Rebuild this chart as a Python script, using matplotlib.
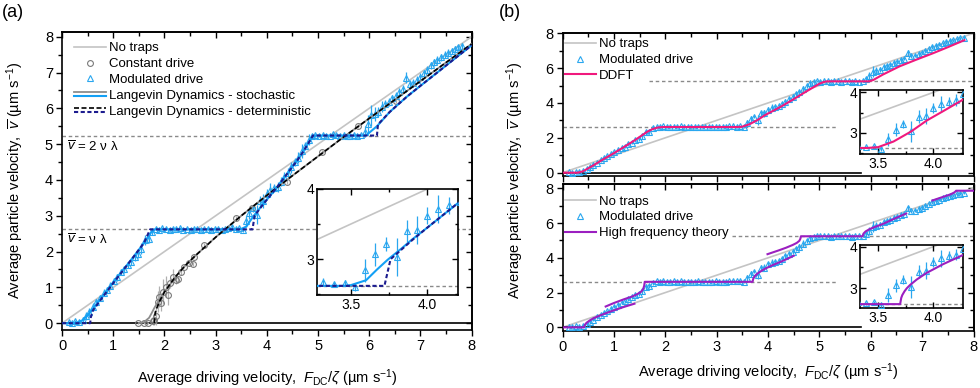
import numpy as np
import matplotlib
matplotlib.use("Agg")
import matplotlib.pyplot as plt
from matplotlib.lines import Line2D
from matplotlib.legend_handler import HandlerBase
from matplotlib.ticker import MultipleLocator, FixedLocator, FormatStrFormatter

plt.rcParams['font.family'] = ['Liberation Sans', 'DejaVu Sans']
plt.rcParams['mathtext.fontset'] = 'custom'
plt.rcParams['mathtext.rm'] = 'Liberation Sans'
plt.rcParams['mathtext.it'] = 'Liberation Sans:italic'
plt.rcParams['mathtext.bf'] = 'Liberation Sans:bold'
plt.rcParams['axes.linewidth'] = 1.2

# ---------------- data ----------------
PLATEAUS = [2.62, 5.24]          # nu*lambda, 2*nu*lambda
NOTRAP_X = [0.0, 8.0]
NOTRAP_Y = [0.0, 8.0]

# modulated drive (experiment)
MOD_X = [0.13, 0.19, 0.26, 0.33, 0.40, 0.47, 0.53, 0.60, 0.67, 0.74,
         0.81, 0.87, 0.94, 1.01, 1.08, 1.15, 1.21, 1.28, 1.35, 1.42,
         1.49, 1.55, 1.62, 1.69, 1.76, 1.83, 1.89, 1.96, 2.03, 2.10,
         2.17, 2.23, 2.30, 2.37, 2.44, 2.51, 2.57, 2.64, 2.71, 2.78,
         2.85, 2.91, 2.98, 3.05, 3.12, 3.19, 3.25, 3.32, 3.39, 3.46,
         3.53, 3.59, 3.66, 3.73, 3.80, 3.87, 3.93, 4.00, 4.07, 4.14,
         4.21, 4.27, 4.34, 4.41, 4.48, 4.55, 4.61, 4.68, 4.75, 4.82,
         4.89, 4.95, 5.02, 5.09, 5.16, 5.23, 5.29, 5.36, 5.43, 5.50,
         5.57, 5.63, 5.70, 5.77, 5.84, 5.91, 5.97, 6.04, 6.11, 6.18,
         6.25, 6.31, 6.38, 6.45, 6.52, 6.59, 6.65, 6.72, 6.79, 6.86,
         6.93, 6.99, 7.06, 7.13, 7.20, 7.27, 7.33, 7.40, 7.47, 7.54,
         7.61, 7.67, 7.74, 7.81]
MOD_Y = [0.02, 0.00, 0.05, 0.04, 0.10, 0.20, 0.30, 0.45, 0.58, 0.70,
         0.85, 0.93, 1.05, 1.18, 1.28, 1.42, 1.50, 1.62, 1.72, 1.85,
         1.93, 2.08, 2.32, 2.36, 2.55, 2.64, 2.61, 2.66, 2.62, 2.60,
         2.64, 2.62, 2.65, 2.61, 2.63, 2.60, 2.62, 2.64, 2.61, 2.63,
         2.62, 2.60, 2.64, 2.62, 2.61, 2.63, 2.65, 2.68, 2.64, 2.66,
         2.60, 2.84, 3.07, 3.21, 3.03, 3.40, 3.42, 3.62, 3.72, 3.77,
         3.81, 3.95, 4.08, 4.20, 4.35, 4.50, 4.62, 4.80, 4.95, 5.12,
         5.22, 5.25, 5.23, 5.26, 5.24, 5.22, 5.27, 5.25, 5.23, 5.26,
         5.24, 5.22, 5.25, 5.23, 5.26, 5.35, 5.55, 5.80, 5.84, 5.90,
         6.05, 6.12, 6.18, 6.28, 6.35, 6.45, 6.55, 6.86, 6.68, 6.72,
         6.80, 6.88, 6.98, 7.08, 7.20, 7.28, 7.35, 7.42, 7.50, 7.55,
         7.60, 7.65, 7.70, 7.75]
MOD_ERR = [0.03, 0.03, 0.05, 0.05, 0.08, 0.10, 0.12, 0.10, 0.10, 0.08,
           0.10, 0.08, 0.10, 0.08, 0.10, 0.08, 0.10, 0.08, 0.10, 0.10,
           0.12, 0.15, 0.15, 0.12, 0.10, 0.05, 0.04, 0.04, 0.03, 0.03,
           0.03, 0.03, 0.03, 0.03, 0.03, 0.03, 0.03, 0.03, 0.03, 0.03,
           0.03, 0.03, 0.03, 0.03, 0.03, 0.03, 0.03, 0.05, 0.03, 0.04,
           0.05, 0.16, 0.16, 0.10, 0.27, 0.16, 0.20, 0.12, 0.20, 0.12,
           0.14, 0.12, 0.15, 0.12, 0.15, 0.12, 0.15, 0.20, 0.12, 0.15,
           0.05, 0.04, 0.03, 0.03, 0.03, 0.03, 0.03, 0.03, 0.03, 0.03,
           0.03, 0.03, 0.03, 0.03, 0.03, 0.15, 0.25, 0.30, 0.20, 0.15,
           0.15, 0.12, 0.12, 0.10, 0.10, 0.12, 0.10, 0.15, 0.10, 0.10,
           0.10, 0.10, 0.10, 0.10, 0.10, 0.10, 0.10, 0.10, 0.10, 0.10,
           0.08, 0.08, 0.08, 0.08]

# constant drive (experiment)
CONST_X = [1.48, 1.61, 1.68, 1.77, 1.80, 1.84, 1.87, 1.90, 1.94, 1.97,
           2.03, 2.06, 2.10, 2.16, 2.22, 2.26, 2.32, 2.39, 2.48, 2.55,
           2.58, 2.77, 3.39, 3.71, 4.39, 5.08, 5.78, 6.52]
CONST_Y = [0.00, 0.00, 0.00, 0.05, 0.09, 0.19, 0.60, 0.74, 0.55, 0.88,
           1.02, 0.80, 1.12, 1.30, 1.20, 1.23, 1.44, 1.58, 1.67, 1.65,
           1.86, 2.18, 2.93, 3.21, 3.95, 4.78, 5.50, 6.20]
CONST_ERR = [0.02, 0.02, 0.02, 0.10, 0.15, 0.25, 0.30, 0.30, 0.20, 0.35,
             0.30, 0.30, 0.15, 0.20, 0.10, 0.10, 0.10, 0.05, 0.05, 0.05,
             0.05, 0.05, 0.05, 0.05, 0.05, 0.05, 0.05, 0.05]

# Langevin dynamics, modulated drive
LDS_MOD_X = [0.0, 0.2, 0.3, 0.4, 0.5, 0.6, 0.8, 1.0, 1.2, 1.4, 1.6, 1.7, 1.75, 1.8,
             3.45, 3.5, 3.6, 3.67, 3.74, 3.83, 3.9, 4.0, 4.2, 4.4, 4.6, 4.7, 4.8,
             4.88, 4.95, 5.9, 5.95, 6.05, 6.15, 6.4, 6.73, 7.0, 7.31, 7.6, 8.0]
LDS_MOD_Y = [0.0, 0.0, 0.02, 0.08, 0.22, 0.40, 0.76, 1.14, 1.50, 1.86, 2.24, 2.45, 2.56, 2.62,
             2.62, 2.63, 2.70, 2.85, 2.99, 3.15, 3.28, 3.45, 3.80, 4.18, 4.56, 4.77, 5.00,
             5.20, 5.24, 5.24, 5.26, 5.38, 5.50, 5.90, 6.32, 6.63, 6.98, 7.31, 7.76]
LDD_MOD_X = [0.0, 0.55, 0.56, 0.6, 0.8, 1.0, 1.2, 1.4, 1.6, 1.72, 3.72, 3.76, 3.9, 4.0,
             4.2, 4.4, 4.6, 4.7, 4.8, 4.9, 6.15, 6.17, 6.4, 6.73, 7.0, 7.31, 7.6, 8.0]
LDD_MOD_Y = [0.0, 0.0, 0.15, 0.35, 0.74, 1.12, 1.49, 1.86, 2.24, 2.62, 2.62, 3.00, 3.27, 3.45,
             3.80, 4.18, 4.56, 4.77, 5.00, 5.24, 5.24, 5.55, 5.90, 6.32, 6.63, 6.98, 7.31, 7.76]

# Langevin dynamics, constant drive
LDS_CONST_X = [1.5, 1.6, 1.7, 1.75, 1.8, 1.9, 2.0, 2.1, 2.2, 2.4, 2.6, 2.8, 3.0, 3.2, 3.5,
               4.0, 4.5, 5.0, 5.5, 6.0, 6.5, 7.0, 7.5, 8.0]
LDS_CONST_Y = [0.0, 0.03, 0.15, 0.28, 0.42, 0.66, 0.88, 1.06, 1.27, 1.60, 1.88, 2.14, 2.40,
               2.64, 3.00, 3.57, 4.12, 4.66, 5.20, 5.72, 6.24, 6.76, 7.28, 7.80]
LDD_CONST_X = [1.8, 1.82, 1.85, 1.9, 2.0, 2.2, 2.4, 2.6, 2.8, 3.0, 3.2, 3.5, 4.0, 4.5, 5.0,
               5.5, 6.0, 6.5, 7.0, 7.5, 8.0]
LDD_CONST_Y = [0.0, 0.30, 0.42, 0.60, 0.87, 1.27, 1.60, 1.88, 2.14, 2.40, 2.64, 3.00, 3.57,
               4.12, 4.66, 5.20, 5.72, 6.24, 6.76, 7.28, 7.80]

# DDFT
DDFT_X = [0.0, 0.30, 0.40, 0.50, 0.60, 0.80, 1.00, 1.20, 1.40, 1.55, 1.65, 1.75, 1.85, 1.95,
          3.40, 3.50, 3.58, 3.64, 3.80, 3.94, 4.10, 4.27, 4.50, 4.70, 4.90, 5.00, 5.08, 5.15,
          5.97, 6.05, 6.23, 6.56, 6.90, 7.21, 7.50, 7.82]
DDFT_Y = [0.0, 0.0, 0.08, 0.25, 0.42, 0.78, 1.12, 1.48, 1.85, 2.15, 2.35, 2.50, 2.59, 2.62,
          2.62, 2.64, 2.72, 2.78, 3.03, 3.30, 3.55, 3.82, 4.22, 4.58, 4.93, 5.10, 5.20, 5.24,
          5.24, 5.32, 5.62, 6.10, 6.50, 6.85, 7.20, 7.60]

# high frequency theory (branches)
HF1_X = [0.0, 0.42, 0.43, 0.46, 0.52, 0.60, 0.71, 0.85, 1.04, 1.20, 1.40]
HF1_Y = [0.0, 0.0, 0.12, 0.24, 0.38, 0.52, 0.66, 0.82, 1.02, 1.18, 1.36]
HF2_X = [0.84, 1.00, 1.20, 1.36, 1.46, 1.53, 1.57, 1.59, 1.60, 3.70, 3.71, 3.72, 3.74,
         3.76, 3.79, 3.85, 3.94, 4.09, 4.27, 4.40, 4.50]
HF2_Y = [1.20, 1.40, 1.62, 1.78, 1.92, 2.05, 2.20, 2.40, 2.62, 2.62, 2.77, 2.84, 2.93,
         3.00, 3.08, 3.21, 3.37, 3.58, 3.80, 3.98, 4.12]
HF3_X = [3.99, 4.20, 4.35, 4.48, 4.56, 4.61, 4.63, 4.64, 5.84, 5.86, 5.90, 5.97, 6.10,
         6.23, 6.45, 6.69]
HF3_Y = [4.21, 4.42, 4.58, 4.74, 4.86, 4.98, 5.10, 5.24, 5.24, 5.40, 5.52, 5.64, 5.80,
         5.94, 6.24, 6.55]
HF4_X = [7.20, 7.40, 7.55, 7.62, 7.65, 7.66, 8.0]
HF4_Y = [7.30, 7.50, 7.65, 7.75, 7.82, 7.86, 7.86]

# ---------------- styles ----------------
C_NOTRAP = '#c4c4c4'
C_REF = '#8a8a8a'
C_MOD = '#2aa7ef'
C_LDS = '#13a0f5'
C_NAVY = '#1c1c8f'
C_CONST = '#7a7a7a'
C_DDFT = '#f0197d'
C_HF = '#9b1fc0'

XLAB = r"Average driving velocity,  $F_{\mathrm{DC}}/\zeta$ (µm s$^{-1}$)"
YLAB = r"Average particle velocity,  $\overline{v}$ (µm s$^{-1}$)"


class PairLine:
    def __init__(self, top, bottom):
        self.top, self.bottom = top, bottom


class HandlerPair(HandlerBase):
    def create_artists(self, legend, orig_handle, xdescent, ydescent,
                       width, height, fontsize, trans):
        arts = []
        for h, f in ((orig_handle.top, 0.68), (orig_handle.bottom, 0.3)):
            ln = Line2D([-xdescent, -xdescent + width],
                        [f * height - ydescent] * 2)
            ln.update_from(h)
            ln.set_transform(trans)
            arts.append(ln)
        return arts


def style_main(ax, ylim, ymaj, ymin):
    ax.set_xlim(0, 8)
    ax.set_ylim(*ylim)
    ax.xaxis.set_major_locator(MultipleLocator(1))
    ax.xaxis.set_minor_locator(MultipleLocator(0.5))
    ax.yaxis.set_major_locator(MultipleLocator(ymaj))
    ax.yaxis.set_minor_locator(MultipleLocator(ymin))
    ax.tick_params(which='both', direction='out', labelsize=10.5, width=1.0, pad=2)
    ax.tick_params(which='major', length=4.5)
    ax.tick_params(which='minor', length=3)
    top = ax.secondary_xaxis('top')
    top.xaxis.set_major_locator(MultipleLocator(1))
    top.xaxis.set_minor_locator(MultipleLocator(0.5))
    top.tick_params(which='both', direction='in', labeltop=False, width=1.0)
    top.tick_params(which='major', length=4.5)
    top.tick_params(which='minor', length=3)
    right = ax.secondary_yaxis('right')
    right.yaxis.set_major_locator(MultipleLocator(ymaj))
    right.yaxis.set_minor_locator(MultipleLocator(ymin))
    right.tick_params(which='both', direction='in', labelright=False, width=1.0)
    right.tick_params(which='major', length=4.5)
    right.tick_params(which='minor', length=3)


def style_inset(ax, xlim, ylim):
    ax.set_xlim(*xlim)
    ax.set_ylim(*ylim)
    ax.xaxis.set_major_locator(FixedLocator([3.5, 4.0]))
    ax.xaxis.set_minor_locator(FixedLocator([3.25, 3.75]))
    ax.xaxis.set_major_formatter(FormatStrFormatter('%.1f'))
    ax.yaxis.set_major_locator(FixedLocator([3, 4]))
    ax.yaxis.set_minor_locator(FixedLocator([2.5, 3.5]))
    ax.yaxis.set_major_formatter(FormatStrFormatter('%d'))
    ax.tick_params(which='both', direction='in', top=True, right=True,
                   labelsize=10, width=1.0, pad=2)
    ax.tick_params(which='major', length=4)
    ax.tick_params(which='minor', length=2.5)
    ax.set_facecolor('white')


def draw_mod(ax, ms=4.2):
    ax.errorbar(MOD_X, MOD_Y, yerr=MOD_ERR, fmt='^', mfc='none', mec=C_MOD,
                ecolor=C_MOD, ms=ms, mew=0.8, elinewidth=0.9, capsize=0, zorder=3)


fig = plt.figure(figsize=(9.8, 3.88), dpi=100)

# ---------------- panel (a) ----------------
ax = fig.add_axes([0.0633, 0.1495, 0.418, 0.7688])
style_main(ax, (-0.19, 8.14), 1, 0.5)
ax.plot(NOTRAP_X, NOTRAP_Y, color=C_NOTRAP, lw=1.2, zorder=1)
for p in PLATEAUS:
    ax.axhline(p, color=C_REF, lw=1.0, ls=(0, (2.5, 2)), zorder=1)
ax.axhline(0, color='black', lw=1.2, zorder=1.5)
ax.errorbar(CONST_X, CONST_Y, yerr=CONST_ERR, fmt='o', mfc='none', mec=C_CONST,
            ecolor='#b0b0b0', ms=4.2, mew=0.8, elinewidth=0.9, capsize=0, zorder=3)
draw_mod(ax)
l_sc, = ax.plot(LDS_CONST_X, LDS_CONST_Y, color='#8c8c8c', lw=1.3, zorder=4)
l_sm, = ax.plot(LDS_MOD_X, LDS_MOD_Y, color=C_LDS, lw=1.5, zorder=4)
l_dc, = ax.plot(LDD_CONST_X, LDD_CONST_Y, color='black', lw=1.2, ls=(0, (3, 1.5)), zorder=5)
l_dm, = ax.plot(LDD_MOD_X, LDD_MOD_Y, color=C_NAVY, lw=1.5, ls=(0, (2, 1.2)), zorder=5)

ax.text(0.1, 2.32, r"$\overline{v}$ = ν λ", fontsize=9.5, va='center', ha='left')
ax.text(0.1, 4.92, r"$\overline{v}$ = 2 ν λ", fontsize=9.5, va='center', ha='left')
ax.set_xlabel(XLAB, fontsize=10.5)
ax.set_ylabel(YLAB, fontsize=10.5)
ax.xaxis.set_label_coords(0.5, -0.127)
ax.yaxis.set_label_coords(-0.088, 0.5)

h_notrap = Line2D([], [], color=C_NOTRAP, lw=1.2)
h_const = Line2D([], [], ls='none', marker='o', mfc='none', mec=C_CONST, ms=4.2, mew=0.8)
h_mod = Line2D([], [], ls='none', marker='^', mfc='none', mec=C_MOD, ms=4.2, mew=0.8)
h_sto = PairLine(l_sc, l_sm)
h_det = PairLine(l_dc, l_dm)
ax.legend([h_notrap, h_const, h_mod, h_sto, h_det],
          ["No traps", "Constant drive", "Modulated drive",
           "Langevin Dynamics - stochastic", "Langevin Dynamics - deterministic"],
          handler_map={PairLine: HandlerPair()}, loc='upper left',
          bbox_to_anchor=(0.03, 0.965), frameon=False, fontsize=9.5,
          borderpad=0, borderaxespad=0, labelspacing=0.27,
          handlelength=2.4, handletextpad=0.25, numpoints=1)

ins = fig.add_axes([317 / 980, 1 - 295 / 388, 141 / 980, 106 / 388])
style_inset(ins, (3.28, 4.20), (2.49, 4.0))
ins.plot(NOTRAP_X, NOTRAP_Y, color=C_NOTRAP, lw=1.2, zorder=1)
ins.axhline(PLATEAUS[0], color=C_REF, lw=1.0, ls=(0, (2.5, 2)), zorder=1)
draw_mod(ins)
ins.plot(LDS_MOD_X, LDS_MOD_Y, color=C_LDS, lw=1.5, zorder=4)
ins.plot(LDD_MOD_X, LDD_MOD_Y, color=C_NAVY, lw=1.5, ls=(0, (2, 1.2)), zorder=5)

fig.text(0.002, 0.99, "(a)", fontsize=13, va='top', ha='left')
fig.text(0.509, 0.99, "(b)", fontsize=13, va='top', ha='left')

# ---------------- panel (b) ----------------
panels = [
    dict(rect=[0.574, 0.5464, 0.4194, 0.3693], ylim=(-0.19, 8.03),
         inset=[860 / 980, 1 - 154 / 388, 103 / 980, 64 / 388], iylim=(2.47, 4.06),
         ref2_from=0.211, name="DDFT", color=C_DDFT,
         curves=[(DDFT_X, DDFT_Y)], legy=0.962),
    dict(rect=[0.574, 0.1469, 0.4194, 0.3781], ylim=(-0.21, 8.23),
         inset=[860 / 980, 1 - 308.3 / 388, 103 / 980, 63.3 / 388], iylim=(2.52, 4.04),
         ref2_from=0.4125, name="High frequency theory", color=C_HF,
         curves=[(HF1_X, HF1_Y), (HF2_X, HF2_Y), (HF3_X, HF3_Y), (HF4_X, HF4_Y)],
         legy=0.925),
]
for i, P in enumerate(panels):
    axb = fig.add_axes(P['rect'])
    style_main(axb, P['ylim'], 2, 1)
    axb.plot(NOTRAP_X, NOTRAP_Y, color=C_NOTRAP, lw=1.2, zorder=1)
    axb.axhline(PLATEAUS[0], xmax=0.665, color=C_REF, lw=1.0, ls=(0, (2.5, 2)), zorder=1)
    axb.axhline(PLATEAUS[1], xmin=P['ref2_from'], color=C_REF, lw=1.0,
                ls=(0, (2.5, 2)), zorder=1)
    axb.axhline(0, xmax=0.726, color='black', lw=1.2, zorder=1.5)
    draw_mod(axb)
    for cx, cy in P['curves']:
        axb.plot(cx, cy, color=P['color'], lw=1.5, zorder=4)
    if i == 0:
        axb.tick_params(axis='x', labelbottom=False)
    else:
        axb.set_xlabel(XLAB, fontsize=10.5)
        axb.xaxis.set_label_coords(0.5, -0.205)
    h_th = Line2D([], [], color=P['color'], lw=1.5)
    axb.legend([h_notrap, h_mod, h_th], ["No traps", "Modulated drive", P['name']],
               loc='upper left', bbox_to_anchor=(0.006, P['legy']), frameon=False,
               fontsize=9.5, borderpad=0, borderaxespad=0, labelspacing=0.27,
               handlelength=2.35, handletextpad=0.25, numpoints=1)

    ib = fig.add_axes(P['inset'])
    style_inset(ib, (3.336, 4.27), P['iylim'])
    ib.plot(NOTRAP_X, NOTRAP_Y, color=C_NOTRAP, lw=1.2, zorder=1)
    ib.axhline(PLATEAUS[0], color=C_REF, lw=1.0, ls=(0, (2.5, 2)), zorder=1)
    draw_mod(ib)
    for cx, cy in P['curves']:
        ib.plot(cx, cy, color=P['color'], lw=1.5, zorder=4)

fig.text(515 / 980, 0.535, YLAB, fontsize=10.5, rotation=90, va='center', ha='center')

fig.savefig("out.png", dpi=100)
